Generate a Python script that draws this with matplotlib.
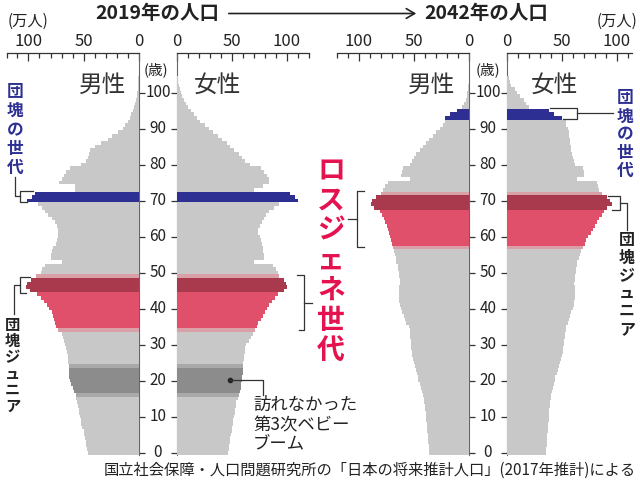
import numpy as np
import matplotlib
matplotlib.use('Agg')
import matplotlib.pyplot as plt
from matplotlib.transforms import blended_transform_factory

plt.rcParams['font.family'] = ['Noto Sans CJK JP', 'DejaVu Sans']

# population by single year of age, unit: 10,000 people (万人)
ages = np.arange(0, 105)

male_2019 = [
    46, 47, 48, 48, 49, 50, 50, 51, 52, 52,
    53, 54, 54, 55, 56, 57, 57, 59, 60, 61,
    62, 63, 63, 63, 63, 64, 64, 64, 65, 66,
    67, 68, 69, 70, 73, 75, 76, 77, 78, 79,
    81, 83, 86, 89, 92, 99, 102, 101, 98, 93,
    89, 88, 85, 70, 80, 80, 79, 78, 75, 74,
    73, 73, 73, 74, 76, 79, 82, 85, 88, 91,
    101, 97, 94, 58, 58, 72, 70, 68, 66, 62,
    52, 48, 46, 45, 44, 40, 34, 28, 24, 19,
    14, 12, 10, 8, 6.5, 5, 4, 3, 2.2, 1.6,
    1.1, 0.7, 0.4, 0.2, 0.1,
]
female_2019 = [
    46, 47, 47, 48, 48, 49, 50, 50, 51, 51,
    52, 53, 53, 54, 54, 55, 56, 57, 58, 58,
    59, 59, 60, 60, 60, 60, 61, 61, 62, 62,
    63, 65, 67, 69, 71, 73, 74, 76, 78, 80,
    82, 84, 86, 89, 92, 97, 100, 99, 97, 93,
    92, 90, 87, 70, 79, 79, 78, 78, 77, 76,
    75, 74, 74, 75, 77, 79, 81, 84, 88, 93,
    110, 107, 103, 70, 78, 84, 84, 82, 79, 76,
    66, 62, 59, 56, 52, 48, 45, 41, 37, 33,
    29, 25, 21, 18, 15, 12.5, 10, 8, 6, 4.5,
    3.2, 2.3, 1.5, 1, 0.5,
]
male_2042 = [
    36, 36, 36, 37, 37, 37, 38, 38, 38, 39,
    39, 39, 40, 40, 41, 41, 42, 43, 44, 45,
    46, 46, 47, 48, 49, 50, 51, 52, 52, 53,
    53, 53, 54, 54, 54, 55, 57, 58, 59, 61,
    62, 63, 64, 64, 64, 64, 64, 63, 63, 64,
    64, 65, 65, 66, 66, 67, 68, 69, 70, 71,
    72, 73, 74, 75, 76, 77, 79, 81, 86, 89,
    88, 85, 80, 78, 76, 74, 54, 62, 61, 60,
    54, 52, 50, 48, 45, 42, 39, 36, 33, 30,
    26, 24, 22, 22, 17, 11, 6, 4.5, 3, 2,
    1.4, 0.9, 0.5, 0.3, 0.1,
]
female_2042 = [
    35, 35, 36, 36, 36, 36, 37, 37, 37, 38,
    38, 38, 38, 39, 39, 40, 40, 41, 42, 43,
    44, 44, 45, 46, 47, 48, 49, 50, 51, 51,
    52, 52, 53, 53, 54, 54, 55, 56, 57, 58,
    60, 61, 61, 62, 62, 62, 62, 61, 62, 62,
    63, 63, 64, 64, 65, 66, 67, 69, 71, 72,
    74, 76, 78, 80, 82, 84, 86, 88, 91, 95,
    94, 91, 86, 84, 83, 82, 64, 70, 70, 69,
    62, 61, 60, 59, 58, 58, 57, 57, 56, 56,
    55, 54, 54, 50, 43, 38, 20, 17, 15, 12,
    9, 7, 4, 2.5, 1.5,
]

# highlighted cohorts (ages in each year)
dankai_2019 = [70, 71, 72]
junior_2019 = [45, 46, 47, 48]
lostgen_2019 = list(range(35, 45))
lostgen_edge_2019 = [34, 49]
boom3_2019 = list(range(17, 24))
boom3_edge_2019 = [16, 24]

dankai_2042 = [93, 94, 95]
junior_2042 = [68, 69, 70, 71]
lostgen_2042 = list(range(58, 68))
lostgen_edge_2042 = [57, 72]

GRAY = '#c8c8c8'
BLUE = '#2d3092'
DARKRED = '#a93a4d'
PINK = '#e1506a'
LIGHTPINK = '#d9a0a8'
DARKGRAY = '#8c8c8c'
MIDGRAY = '#a9a9a9'
INK = '#222222'
LINE = '#333333'


def bar_colors(groups):
    cols = []
    for a in ages:
        c = GRAY
        for members, color in groups:
            if a in members:
                c = color
        cols.append(c)
    return cols


colors_2019 = bar_colors([
    (dankai_2019, BLUE), (junior_2019, DARKRED), (lostgen_2019, PINK),
    (lostgen_edge_2019, LIGHTPINK), (boom3_2019, DARKGRAY),
    (boom3_edge_2019, MIDGRAY)])
colors_2042 = bar_colors([
    (dankai_2042, BLUE), (junior_2042, DARKRED), (lostgen_2042, PINK),
    (lostgen_edge_2042, LIGHTPINK)])

W, H = 640, 487
fig = plt.figure(figsize=(W / 100, H / 100), dpi=100)


def px_axes(left, top, right, bottom):
    return fig.add_axes([left / W, 1 - bottom / H, (right - left) / W,
                         (bottom - top) / H])


def draw_side(ax, values, colors, xmax, male):
    ax.barh(ages, values, height=1.0, color=colors, linewidth=0, zorder=3)
    ax.set_ylim(-0.5, 111)
    if male:
        ax.set_xlim(xmax, 0)
    else:
        ax.set_xlim(0, xmax)
    ax.patch.set_visible(False)
    ax.xaxis.tick_top()
    ax.set_xticks([0, 50, 100])
    ax.set_xticks(np.arange(0, xmax + 0.1, 10), minor=True)
    ax.tick_params(axis='x', which='major', direction='in', length=5.5,
                   width=0.9, color=LINE, labelsize=12, pad=2,
                   labelcolor=INK)
    ax.tick_params(axis='x', which='minor', direction='in', length=3.5,
                   width=0.9, color=LINE)
    ax.set_yticks(np.arange(0, 101, 10))
    ax.tick_params(axis='y', direction='out', length=4, width=0.9,
                   color=LINE, left=not male, right=male,
                   labelleft=False, labelright=False)
    ax.spines['bottom'].set_visible(False)
    ax.spines['left' if male else 'right'].set_visible(False)
    ax.spines['top'].set_color(LINE)
    ax.spines['top'].set_linewidth(0.9)
    ax.spines['right' if male else 'left'].set_color('#666666')
    ax.spines['right' if male else 'left'].set_linewidth(0.8)


ax_m19 = px_axes(6.5, 53, 138.5, 454.5)
ax_f19 = px_axes(177, 53, 309, 454.5)
ax_m42 = px_axes(337, 53, 469, 454.5)
ax_f42 = px_axes(507, 53, 632.4, 454.5)

draw_side(ax_m19, male_2019, colors_2019, 120, True)
draw_side(ax_f19, female_2019, colors_2019, 120, False)
draw_side(ax_m42, male_2042, colors_2042, 120, True)
draw_side(ax_f42, female_2042, colors_2042, 114, False)

# overlay in pixel coordinates for labels and annotations
ov = fig.add_axes([0, 0, 1, 1], zorder=10)
ov.set_xlim(0, W)
ov.set_ylim(H, 0)
ov.axis('off')
ov.patch.set_visible(False)

# age labels in the gaps
for xc, ax in [(158, ax_f19), (488, ax_f42)]:
    tr = blended_transform_factory(ov.transData, ax.transData)
    for a in range(0, 101, 10):
        ov.text(xc, a, str(a), transform=tr, ha='center', va='center',
                fontsize=11, color=INK)

# headers
ov.text(157.5, 13.5, '2019年の人口', ha='center', va='center', fontsize=14,
        fontweight='bold', color=INK)
ov.text(486.5, 13.5, '2042年の人口', ha='center', va='center', fontsize=14,
        fontweight='bold', color=INK)
ov.annotate('', xy=(419, 13.5), xytext=(226, 13.5),
            arrowprops=dict(arrowstyle='->,head_length=0.6,head_width=0.35',
                            lw=1.2, color=INK))
ov.text(28, 21, '(万人)', ha='center', va='center', fontsize=11, color=INK)
ov.text(617, 21, '(万人)', ha='center', va='center', fontsize=11, color=INK)
ov.text(155.5, 70, '(歳)', ha='center', va='center', fontsize=10.5, color=INK)
ov.text(487.5, 70, '(歳)', ha='center', va='center', fontsize=10.5, color=INK)
for x, s in [(103, '男性'), (217.5, '女性'), (431.5, '男性'), (554, '女性')]:
    ov.text(x, 85, s, ha='center', va='center', fontsize=17, color='#333333')


def vtext(x, chars, top, pitch, **kw):
    for i, c in enumerate(chars):
        ov.text(x, top + i * pitch, c, ha='center', va='center', **kw)


# left side annotations
vtext(15, '団塊の世代', 92, 19, fontsize=12, fontweight='bold', color=BLUE)
ov.plot([15, 15, 20], [177, 196, 196], color=LINE, lw=0.9)
ov.plot([33, 20, 20, 27], [191, 191, 202, 202], color=LINE, lw=0.9)

vtext(12.5, '団塊ジュニア', 325, 16.2, fontsize=11, fontweight='bold',
      color=INK)
ov.plot([30, 20, 20, 26], [277, 277, 292.5, 292.5], color=LINE, lw=0.9)
ov.plot([20, 14, 14], [285, 285, 314], color=LINE, lw=0.9)

# lost generation
vtext(331, 'ロスジェネ世代', 171, 30, fontsize=20, fontweight='bold',
      color='#e4134f')
ov.plot([297, 304, 304, 299], [275, 275, 330, 330], color=LINE, lw=0.9)
ov.plot([304, 312], [303, 303], color=LINE, lw=0.9)
ov.plot([364, 357, 357, 364], [191, 191, 247, 247], color=LINE, lw=0.9)
ov.plot([357, 348], [219, 219], color=LINE, lw=0.9)

# right side annotations
vtext(625, '団塊の世代', 98, 18.3, fontsize=12, fontweight='bold', color=BLUE)
ov.plot([550, 577, 577, 563], [107.5, 107.5, 118.5, 118.5], color=LINE, lw=0.9)
ov.plot([577, 613], [113, 113], color=LINE, lw=0.9)

vtext(627, '団塊ジュニア', 240, 17.8, fontsize=11.5, fontweight='bold',
      color=INK)
ov.plot([608, 620, 620, 612], [196, 196, 210, 210], color=LINE, lw=0.9)
ov.plot([620, 627, 627], [203, 203, 230], color=LINE, lw=0.9)

# third baby boom that never came
ov.plot([230], [380], 'o', ms=3, color=INK)
ov.plot([230, 263, 263], [380, 380, 395], color=LINE, lw=0.9)
for y, s in [(405, '訪れなかった'), (425.5, '第3次ベビー'), (444.5, 'ブーム')]:
    ov.text(253, y, s, ha='left', va='center', fontsize=12.5, color=INK)

ov.text(636, 470, '国立社会保障・人口問題研究所の「日本の将来推計人口」(2017年推計)による',
        ha='right', va='center', fontsize=11, color=INK)

fig.savefig('out.png', dpi=100)
